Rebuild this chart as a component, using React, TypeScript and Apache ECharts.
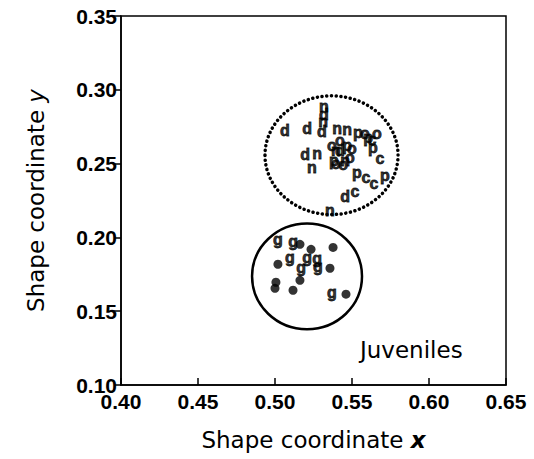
import React, { useEffect, useRef } from "react";
import * as echarts from "echarts";

const xTicks = [0.4, 0.45, 0.5, 0.55, 0.6, 0.65];
const yTicks = [0.1, 0.15, 0.2, 0.25, 0.3, 0.35];

const dPoints: [number, number][] = [
  [0.5065, 0.2723], [0.5208, 0.2736], [0.5318, 0.2831], [0.5305, 0.2716],
  [0.5195, 0.2561], [0.5455, 0.2277], [0.5422, 0.2588],
];
const nPoints: [number, number][] = [
  [0.5318, 0.2885], [0.5312, 0.2784], [0.5403, 0.2736], [0.5468, 0.273],
  [0.5273, 0.2568], [0.524, 0.2473], [0.5357, 0.2182], [0.5396, 0.2588],
  [0.5455, 0.252],
];
const pPoints: [number, number][] = [
  [0.5539, 0.2709], [0.5604, 0.2676], [0.5636, 0.2608], [0.5714, 0.2419],
  [0.5532, 0.2439], [0.5468, 0.2622], [0.5383, 0.252],
];
const cPoints: [number, number][] = [
  [0.5682, 0.2534], [0.5591, 0.2405], [0.5643, 0.2365], [0.5519, 0.2311],
  [0.563, 0.2662],
];
const oPoints: [number, number][] = [
  [0.5662, 0.2703], [0.5584, 0.2703], [0.55, 0.2601], [0.5422, 0.2655],
  [0.537, 0.2622], [0.5396, 0.25], [0.5442, 0.2493], [0.5487, 0.2541],
];
const gPoints: [number, number][] = [
  [0.5019, 0.1986], [0.5117, 0.1973], [0.5097, 0.1865], [0.5208, 0.1865],
  [0.5273, 0.1858], [0.5169, 0.1797], [0.5279, 0.1804], [0.537, 0.1628],
];
const dotPoints: [number, number][] = [
  [0.5162, 0.1953], [0.5234, 0.1919], [0.5377, 0.1932], [0.5019, 0.1818],
  [0.5357, 0.1791], [0.5162, 0.1709], [0.5006, 0.1696], [0.5, 0.1655],
  [0.5117, 0.1642], [0.5461, 0.1615],
];
// [cx, cy, rx, ry, dotted(1) / solid(0)]
const groupCircles: number[][] = [
  [0.5367, 0.2557, 0.0432, 0.0402, 1],
  [0.5208, 0.1736, 0.0357, 0.0358, 0],
];

const letterSeries = (letter: string, data: [number, number][]) => ({
  type: "scatter",
  data,
  symbol: "circle",
  symbolSize: 1,
  itemStyle: { color: "rgba(0,0,0,0)" },
  label: {
    show: true,
    position: "inside",
    formatter: () => letter,
    color: "#000",
    fontFamily: "Liberation Sans",
    fontWeight: "bold",
    fontSize: 16,
    textBorderColor: "#000",
    textBorderWidth: 0.8,
  },
  z: 3,
});

export default function App() {
  const ref = useRef<HTMLDivElement>(null);
  useEffect(() => {
    if (!ref.current) return;
    const chart = echarts.init(ref.current, undefined, { renderer: "svg" });
    const labelFont = {
      color: "#000",
      fontFamily: "Liberation Sans",
      fontWeight: "bold" as const,
      fontSize: 21,
    };
    const titleStyle = (bold: boolean) => ({
      color: "#000",
      fontFamily: "DejaVu Sans",
      fontSize: 23,
      rich: {
        i: {
          fontFamily: "DejaVu Sans",
          fontSize: 23,
          fontStyle: "italic",
          fontWeight: bold ? "bold" : "normal",
          color: "#000",
        },
      },
    });
    chart.setOption({
      animation: false,
      backgroundColor: "#fff",
      grid: {
        left: 121,
        right: 28,
        top: 16,
        bottom: 74,
        show: true,
        borderColor: "#000",
        borderWidth: 1.5,
      },
      xAxis: {
        type: "value",
        min: xTicks[0],
        max: xTicks[xTicks.length - 1],
        interval: 0.05,
        splitLine: { show: false },
        axisLine: { lineStyle: { color: "#000", width: 1.5 } },
        axisTick: { inside: true, length: 7, lineStyle: { color: "#000", width: 1.5 } },
        axisLabel: { ...labelFont, margin: 6, formatter: (v: number) => v.toFixed(2) },
        name: "Shape coordinate {i|x}",
        nameLocation: "middle",
        nameGap: 43,
        nameTextStyle: titleStyle(true),
      },
      yAxis: {
        type: "value",
        min: yTicks[0],
        max: yTicks[yTicks.length - 1],
        interval: 0.05,
        splitLine: { show: false },
        axisLine: { lineStyle: { color: "#000", width: 1.5 } },
        axisTick: { inside: false, length: 7, lineStyle: { color: "#000", width: 1.5 } },
        axisLabel: { ...labelFont, margin: 4, formatter: (v: number) => v.toFixed(2) },
        name: "Shape coordinate {i|y}",
        nameLocation: "middle",
        nameGap: 74,
        nameTextStyle: titleStyle(false),
      },
      graphic: [
        {
          type: "text",
          left: 360,
          top: 338,
          style: {
            text: "Juveniles",
            fill: "#000",
            fontFamily: "DejaVu Sans",
            fontSize: 23,
          },
        },
      ],
      series: [
        {
          type: "custom",
          data: groupCircles,
          renderItem: (params: any, api: any) => {
            const c = api.coord([api.value(0), api.value(1)]);
            const sx = api.size([api.value(2), 0])[0];
            const sy = api.size([0, api.value(3)])[1];
            const dotted = api.value(4) === 1;
            return {
              type: "ellipse",
              shape: { cx: c[0], cy: c[1], rx: sx, ry: sy },
              style: dotted
                ? { fill: "none", stroke: "#000", lineWidth: 3.5, lineDash: [0.1, 4.6], lineCap: "round" }
                : { fill: "none", stroke: "#000", lineWidth: 2.5 },
            };
          },
          z: 1,
        },
        letterSeries("d", dPoints),
        letterSeries("n", nPoints),
        letterSeries("p", pPoints),
        letterSeries("c", cPoints),
        letterSeries("o", oPoints),
        letterSeries("g", gPoints),
        {
          type: "scatter",
          data: dotPoints,
          symbol: "circle",
          symbolSize: 9,
          itemStyle: { color: "#000" },
          z: 3,
        },
      ],
    });
    return () => chart.dispose();
  }, []);
  return (
    <div
      ref={ref}
      style={{ position: "fixed", left: 0, top: 0, width: 534, height: 459, background: "#fff" }}
    />
  );
}
